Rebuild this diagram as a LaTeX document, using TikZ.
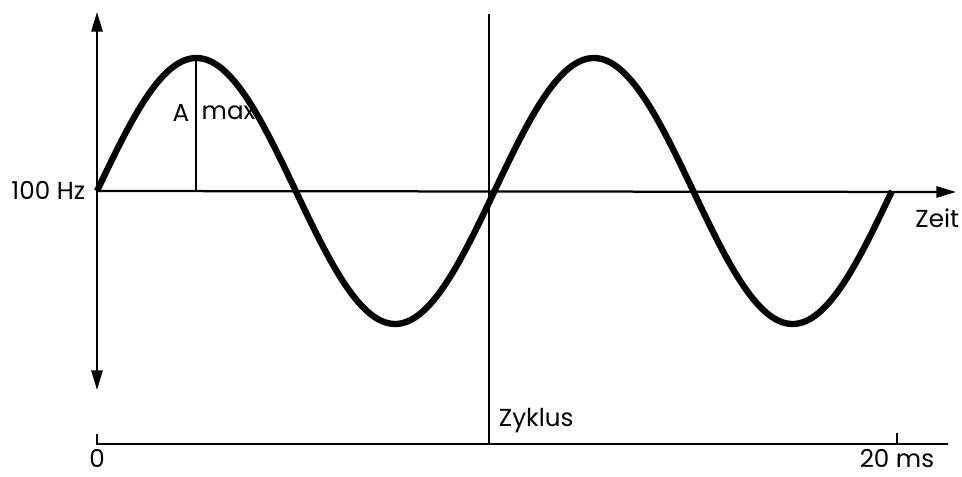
\documentclass[tikz,border=0pt]{standalone}
\usepackage{fontspec}
\setmainfont{Poppins}
\usepackage{tikz}
\usetikzlibrary{arrows.meta}

\begin{document}
\begin{tikzpicture}[x=0.025cm,y=0.025cm,font=\fontsize{17.5}{21}\selectfont,
  axis/.style={line width=1.6pt,-{Triangle[length=14pt,width=8pt]}},
  guide/.style={line width=0.9pt}]
  \useasboundingbox (0,0) rectangle (962,476);
  \coordinate (O) at (97,285);
  \coordinate (ytop) at (97,464);
  \coordinate (ybot) at (97,86);
  \coordinate (xend) at (956,284);
  % axes
  \draw[axis,{Triangle[length=14pt,width=8pt]}-{Triangle[length=14pt,width=8pt]}] (ybot) -- (ytop);
  \draw[axis] (O) -- (xend);
  \node[anchor=east] (freq) at (90,286) {100 Hz};
  \node[anchor=north east] (zeit) at (964,272) {Zeit};
  % signal
  \draw[line width=4.5pt,domain=97:892,samples=140,smooth] plot (\x,{285+133*sin((\x-97)/397.5*360)});
  \coordinate (peak) at (196,418);
  \draw[guide] (peak) -- (196,285);
  \node[anchor=east,inner sep=1pt] (amp) at (191,363) {A};
  \node[anchor=west,inner sep=1pt] (max) at (200,363) {max};
  % cycle
  \coordinate (ztop) at (489,462);
  \coordinate (zbot) at (489,32);
  \draw[guide] (ztop) -- (zbot);
  \node[anchor=south west] (zyk) at (494,38) {Zyklus};
  % time scale
  \coordinate (t0) at (97,32);
  \coordinate (t20) at (897,32);
  \draw[line width=1.6pt] (97,42) -- (t0) -- (948,32);
  \draw[line width=1.2pt] (t20) -- (897,43);
  \node[anchor=north] (zero) at (t0) {0};
  \node[anchor=north] (end) at (t20) {20 ms};
\end{tikzpicture}
\end{document}
